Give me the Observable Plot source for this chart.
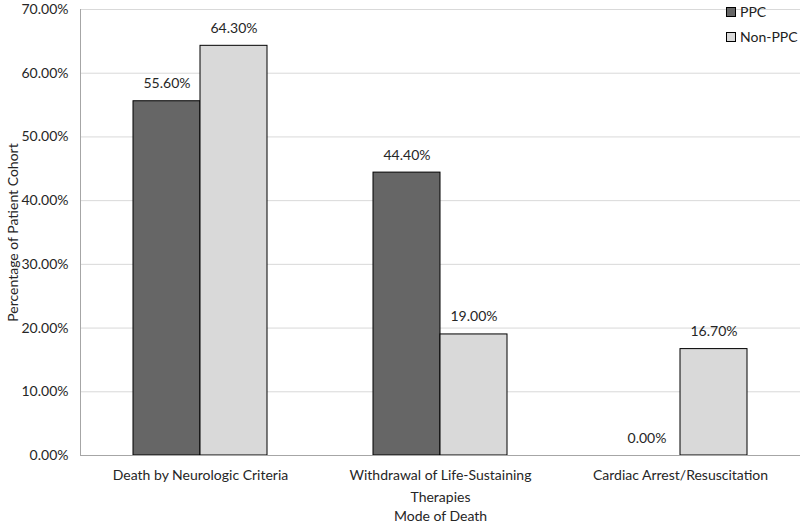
<!DOCTYPE html>
<html><head><meta charset="utf-8">
<script src="https://cdn.jsdelivr.net/npm/d3@7"></script>
<script src="https://cdn.jsdelivr.net/npm/@observablehq/plot@0.6"></script>
<style>
body{margin:0;background:#fff;font-family:Lato,"Liberation Sans",sans-serif;}
#wrap{position:relative;width:800px;height:524px;}
.legend{position:absolute;left:726px;font-size:14px;color:#222;display:flex;align-items:center;white-space:nowrap;}
.legend span.sw{display:inline-block;width:8px;height:8px;border:1px solid #000;margin-right:4px;}
</style></head>
<body><div id="wrap"></div>
<script>
const categories = ["Death by Neurologic Criteria", "Withdrawal of Life-Sustaining\nTherapies", "Cardiac Arrest/Resuscitation"];
const series = ["PPC", "Non-PPC"];
const ppcValues = [55.6, 44.4, 0.0];
const nonPpcValues = [64.3, 19.0, 16.7];
const colors = ["#666666", "#d9d9d9"];
const yTicks = [0, 10, 20, 30, 40, 50, 60, 70];

const data = [];
categories.forEach((c, i) => {
  data.push({cat: c, series: "PPC", value: ppcValues[i]});
  data.push({cat: c, series: "Non-PPC", value: nonPpcValues[i]});
});
const fmt = v => v.toFixed(2) + "%";
const txt = "#262626";

const chart = Plot.plot({
  width: 800, height: 524,
  marginLeft: 80, marginRight: 0, marginTop: 9, marginBottom: 69,
  style: {fontFamily: "Lato, 'Liberation Sans', sans-serif", fontSize: "14px", color: txt},
  fx: {domain: categories, padding: 0},
  x: {domain: series, paddingInner: 0, paddingOuter: 0.765, axis: null},
  y: {domain: [0, 70]},
  color: {domain: series, range: colors},
  marks: [
    Plot.gridY(yTicks.filter(t => t > 0), {stroke: "#d9d9d9", strokeOpacity: 1}),
    Plot.barY(data, {fx: "cat", x: "series", y: "value", fill: "series", stroke: "#000", strokeWidth: 1}),
    Plot.ruleY([0], {stroke: "#a6a6a6"}),
    Plot.frame({anchor: "left", stroke: "#a6a6a6", facet: "super"}),
    Plot.text(data, {fx: "cat", x: "series", y: "value", text: d => fmt(d.value), lineAnchor: "bottom", dy: -13, fontSize: 14, fill: txt}),
    Plot.axisY(yTicks, {tickSize: 0, tickPadding: 12, tickFormat: fmt, fontSize: 14, fill: txt,
      label: "Percentage of Patient Cohort", labelAnchor: "center", labelOffset: 72, labelArrow: "none"}),
    Plot.axisFx({anchor: "bottom", tickSize: 0, tickPadding: 9, fontSize: 14, fill: txt, lineHeight: 1.55,
      label: "Mode of Death", labelAnchor: "center", labelOffset: 65, labelArrow: "none"})
  ]
});
const wrap = document.getElementById("wrap");
wrap.appendChild(chart);
series.forEach((s, i) => {
  const div = document.createElement("div");
  div.className = "legend";
  div.style.top = (3 + i * 25) + "px";
  div.innerHTML = `<span class="sw" style="background:${colors[i]}"></span>${s}`;
  wrap.appendChild(div);
});
</script></body></html>
